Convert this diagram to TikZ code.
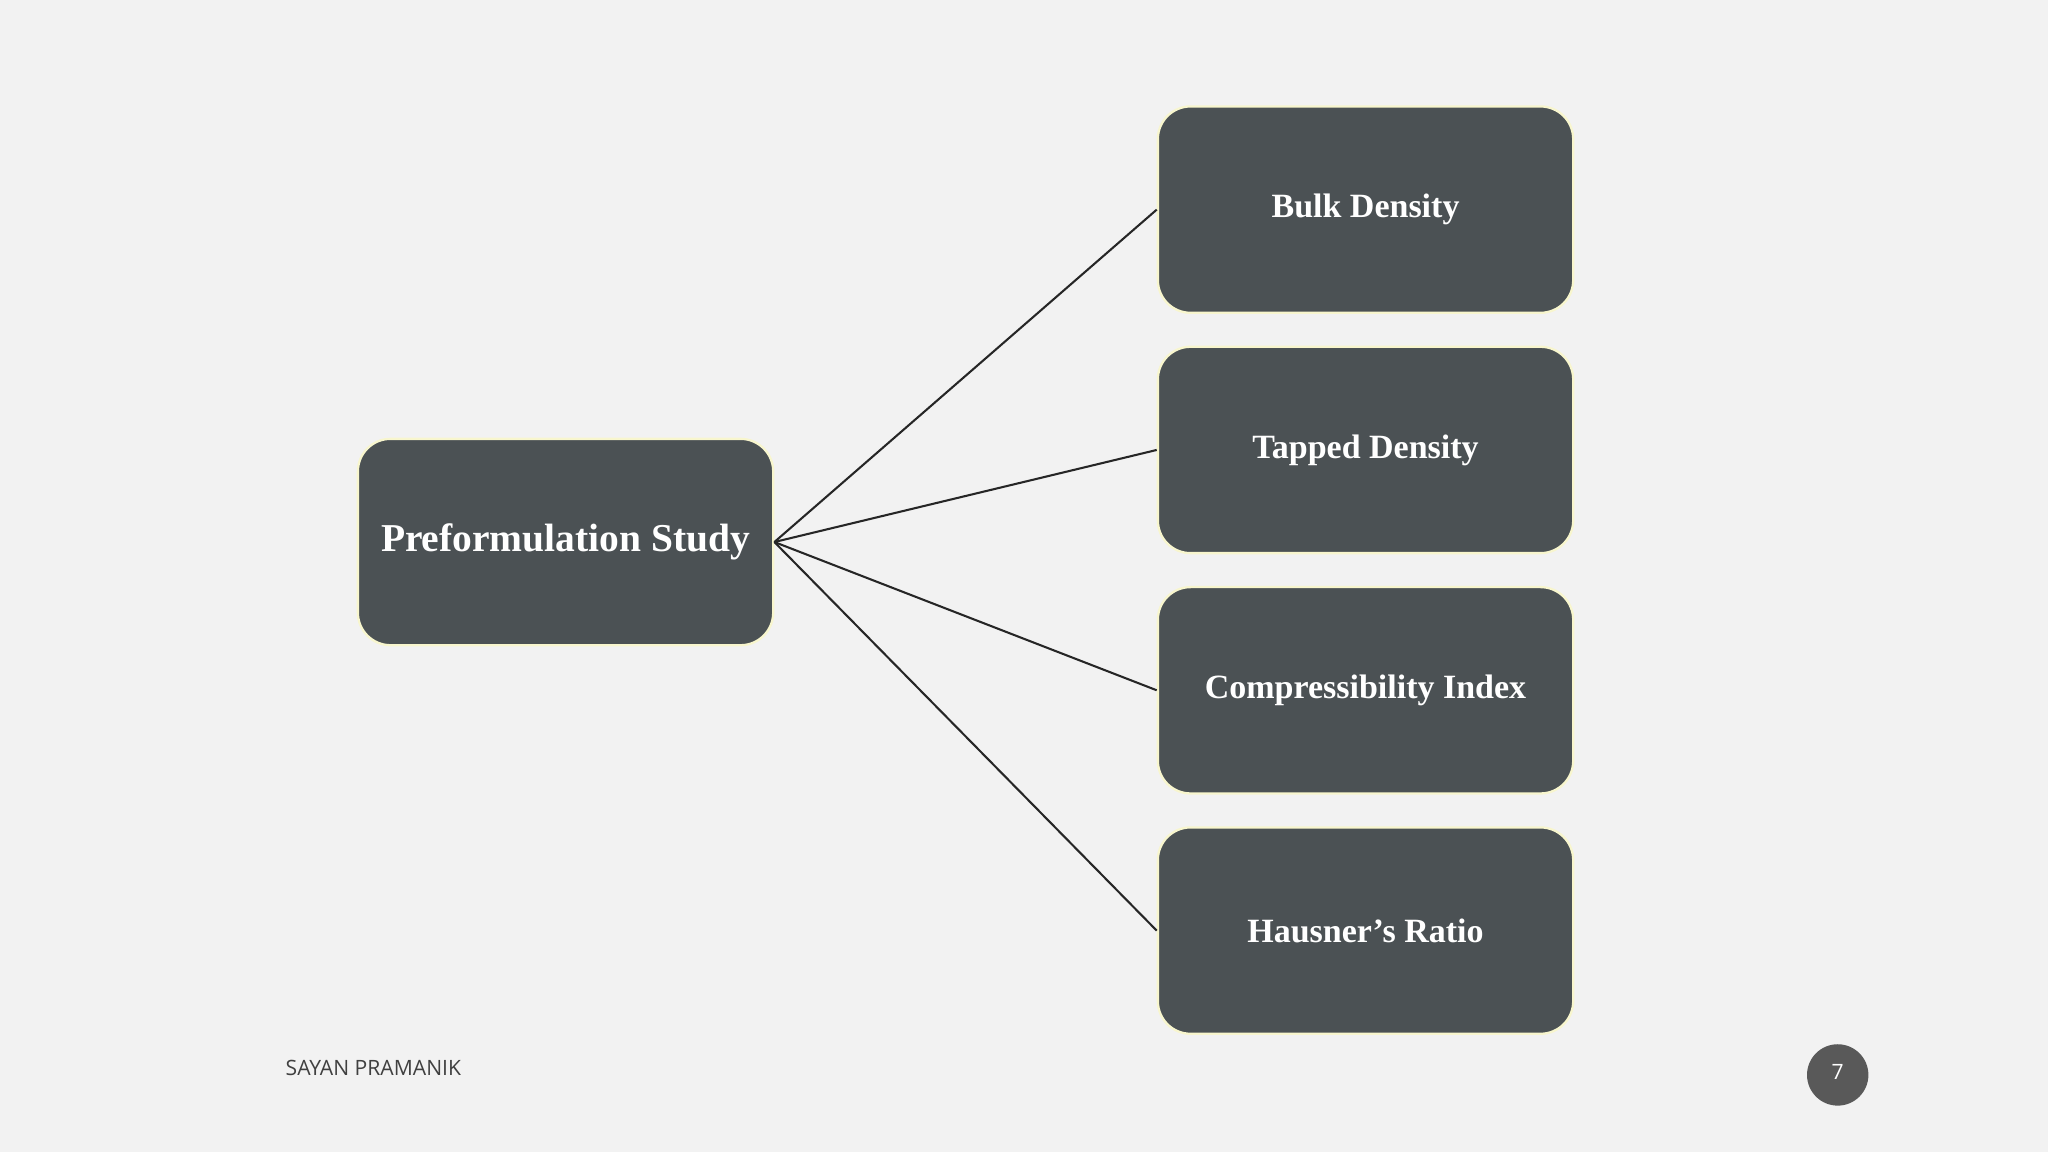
\documentclass[tikz,border=0pt]{standalone}
\usepackage{fontspec}
\setmainfont{Liberation Serif}
\newfontfamily\footfont{Open Sans}
\begin{document}
\begin{tikzpicture}[x=0.01cm,y=-0.01cm,
  box/.style={draw=black!15!yellow!20!white,line width=0.5pt,fill=boxc,rounded corners=2.5mm,minimum width=318*0.01cm,minimum height=158*0.01cm,text=white,font=\bfseries\fontsize{7.4}{9}\selectfont,inner sep=0pt},
  link/.style={draw=black!85,line width=0.45pt}]
\definecolor{boxc}{HTML}{4B5154}
\definecolor{bg}{HTML}{F2F2F2}
\fill[bg] (0,0) rectangle (1568,882);
\useasboundingbox (0,0) rectangle (1568,882);
\node[box,font=\bfseries\fontsize{8.6}{10}\selectfont] (p) at (433,415) {Preformulation Study};
\node[box] (b1) at (1045.5,160.5) {Bulk Density};
\node[box] (b2) at (1045.5,344.5) {Tapped Density};
\node[box] (b3) at (1045.5,528.5) {Compressibility Index};
\node[box] (b4) at (1045.5,712.5) {Hausner’s Ratio};
\foreach \n in {b1,b2,b3,b4} \draw[link] (p.east) -- (\n.west);
\node[anchor=west,text=black!75,font=\footfont\fontsize{4.6}{6}\selectfont,inner sep=0pt] (f) at (218,818) {SAYAN PRAMANIK};
\node[circle,fill=black!65,minimum size=47*0.01cm,inner sep=0pt,text=white,font=\footfont\fontsize{4.6}{6}\selectfont] (pg) at (1407,823) {\raisebox{1.2pt}{7}};
\end{tikzpicture}
\end{document}
